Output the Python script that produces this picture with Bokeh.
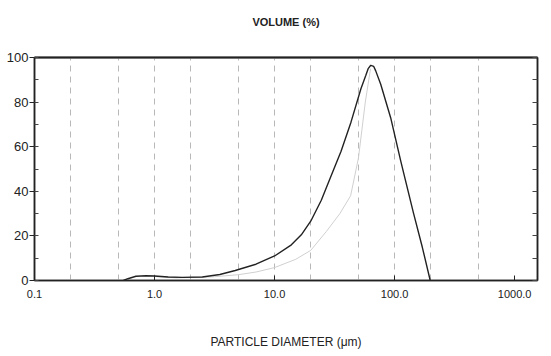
from bokeh.plotting import figure
from bokeh.models import (Range1d, LinearAxis, LogAxis, FixedTicker,
                          SingleIntervalTicker, CustomJSTickFormatter)
from bokeh.embed import file_html
from bokeh.resources import INLINE

# Particle size distribution, volume %
diam_main = [0.55, 0.6, 0.7, 0.85, 1.0, 1.3, 1.7, 2.5, 3.5, 4.7, 7.0, 10, 13.8, 16.7,
             20.2, 24.5, 29.6, 35.8, 43.3, 52.4, 57.6, 60.2, 63.3, 67, 69.6, 76.6,
             92.7, 112, 123, 144, 170, 198]
vol_main = [0, 0.8, 1.9, 2.1, 2.0, 1.6, 1.4, 1.6, 2.7, 4.5, 7.3, 11, 16, 20.5,
            27, 36, 47, 58, 71, 86, 92, 95, 96.5, 96, 94, 88,
            73, 54, 45, 30, 15, 0]

diam_alt = [1.0, 1.5, 3.0, 5.0, 7.0, 10, 15, 20, 27, 35, 43, 50, 57, 63]
vol_alt = [1.8, 1.2, 1.6, 2.6, 3.8, 5.8, 9.5, 13.5, 22, 30, 38, 55, 80, 95]

x_ticks = [0.1, 1, 10, 100, 1000]
x_tick_labels = ["0.1", "1.0", "10.0", "100.0", "1000.0"]
x_grid = [0.2, 0.5, 1, 2, 5, 10, 20, 50, 100, 200, 500]

FONT = "Liberation Sans"
INK = "#222222"

p = figure(width=551, height=356, x_axis_type="log",
           x_range=Range1d(0.1, 1550), y_range=Range1d(0, 100),
           output_backend="svg", toolbar_location=None,
           min_border_left=34, min_border_right=14,
           min_border_top=57, min_border_bottom=76)

p.outline_line_color = INK
p.outline_line_width = 1.5
p.background_fill_color = "white"
p.border_fill_color = "white"

xa = p.below[0]
ya = p.left[0]

# bottom axis
xa.ticker = FixedTicker(ticks=x_ticks, minor_ticks=[])
xa.major_label_overrides = {t: s for t, s in zip(x_ticks, x_tick_labels)}
xa.major_tick_in = 5
xa.major_tick_out = 0
xa.minor_tick_in = 0
xa.minor_tick_out = 0
xa.axis_line_width = 1.5
xa.axis_line_color = INK
xa.major_tick_line_color = INK
xa.major_label_text_font = FONT
xa.major_label_text_font_size = "11px"
xa.major_label_text_color = INK
xa.major_label_standoff = 9
xa.axis_label = "PARTICLE DIAMETER (\u03bcm)"
xa.axis_label_text_font = FONT
xa.axis_label_text_font_size = "12px"
xa.axis_label_text_font_style = "normal"
xa.axis_label_text_color = INK
xa.axis_label_standoff = 34

# left axis
ya.ticker = SingleIntervalTicker(interval=20, num_minor_ticks=2)
ya.major_tick_out = 5
ya.major_tick_in = 0
ya.minor_tick_in = 4
ya.minor_tick_out = 0
ya.axis_line_width = 1.5
ya.axis_line_color = INK
ya.major_tick_line_color = INK
ya.minor_tick_line_color = "#444444"
ya.major_label_text_font = FONT
ya.major_label_text_font_size = "13px"
ya.major_label_text_color = INK
ya.major_label_standoff = 1

# top axis carries the heading
ta = LogAxis(ticker=FixedTicker(ticks=[]), axis_label="VOLUME (%)")
ta.axis_line_width = 2
ta.axis_line_color = INK
ta.major_tick_in = 0
ta.major_tick_out = 0
ta.minor_tick_in = 0
ta.minor_tick_out = 0
ta.major_label_standoff = 0
ta.axis_label_standoff = 30
ta.axis_label_text_font = FONT
ta.axis_label_text_font_size = "11px"
ta.axis_label_text_font_style = "bold"
ta.axis_label_text_color = INK
p.add_layout(ta, "above")

# right axis: inward ticks, no labels
ra = LinearAxis(ticker=SingleIntervalTicker(interval=10, num_minor_ticks=0),
                formatter=CustomJSTickFormatter(code="return ''"))
ra.major_tick_in = 5
ra.major_tick_out = 0
ra.minor_tick_in = 0
ra.minor_tick_out = 0
ra.axis_line_width = 1.5
ra.axis_line_color = INK
ra.major_tick_line_color = "#444444"
ra.major_label_standoff = 0
p.add_layout(ra, "right")

# dashed vertical grid
p.xgrid.ticker = FixedTicker(ticks=x_grid)
p.xgrid.grid_line_color = "#b8b8b8"
p.xgrid.grid_line_dash = "6 5"
p.xgrid.grid_line_width = 1
p.ygrid.grid_line_color = None

p.line(diam_alt, vol_alt, line_color="#d0d0d0", line_width=1)
p.line(diam_main, vol_main, line_color=INK, line_width=1.4)

open("out.html", "w").write(file_html(p, INLINE))
